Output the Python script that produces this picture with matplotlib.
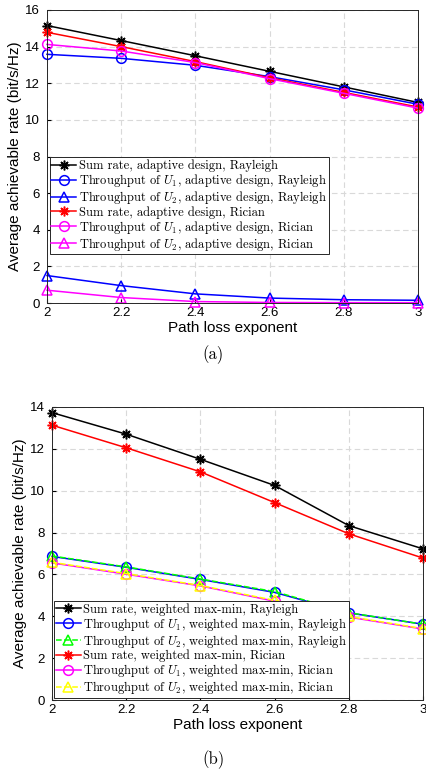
import matplotlib.pyplot as plt

plt.rcParams['font.family'] = ['Liberation Sans', 'DejaVu Sans']
plt.rcParams['mathtext.fontset'] = 'cm'

x = [2, 2.2, 2.4, 2.6, 2.8, 3]

# (a) adaptive design
a_sum_ray = [15.15, 14.33, 13.5, 12.65, 11.8, 10.95]
a_u1_ray = [13.58, 13.36, 12.98, 12.36, 11.64, 10.85]
a_u2_ray = [1.5, 0.95, 0.5, 0.27, 0.18, 0.15]
a_sum_ric = [14.78, 14.0, 13.18, 12.3, 11.5, 10.7]
a_u1_ric = [14.12, 13.76, 13.13, 12.25, 11.45, 10.64]
a_u2_ric = [0.7, 0.3, 0.08, 0.03, 0.02, 0.02]

# (b) weighted max-min
b_sum_ray = [13.73, 12.7, 11.5, 10.25, 8.33, 7.22]
b_u1_ray = [6.86, 6.34, 5.76, 5.14, 4.16, 3.62]
b_u2_ray = [6.88, 6.36, 5.78, 5.18, 4.17, 3.62]
b_sum_ric = [13.13, 12.05, 10.9, 9.43, 7.94, 6.78]
b_u1_ric = [6.55, 6.01, 5.45, 4.72, 3.96, 3.39]
b_u2_ric = [6.58, 6.04, 5.47, 4.76, 3.99, 3.41]

labels_a = ["Sum rate, adaptive design, Rayleigh",
            "Throughput of $U_1$, adaptive design, Rayleigh",
            "Throughput of $U_2$, adaptive design, Rayleigh",
            "Sum rate, adaptive design, Rician",
            "Throughput of $U_1$, adaptive design, Rician",
            "Throughput of $U_2$, adaptive design, Rician"]
labels_b = ["Sum rate, weighted max-min, Rayleigh",
            "Throughput of $U_1$, weighted max-min, Rayleigh",
            "Throughput of $U_2$, weighted max-min, Rayleigh",
            "Sum rate, weighted max-min, Rician",
            "Throughput of $U_1$, weighted max-min, Rician",
            "Throughput of $U_2$, weighted max-min, Rician"]

fig = plt.figure(figsize=(4.27, 7.74), dpi=100)
ASTER = (8, 2, 0)


def style(ax, ymax):
    ax.set_xlim(2, 3)
    ax.set_ylim(0, ymax)
    ax.set_xticks(x)
    ax.set_xticklabels(['2', '2.2', '2.4', '2.6', '2.8', '3'])
    ax.set_yticks(range(0, ymax + 1, 2))
    ax.grid(True, ls=(0, (5, 3)), color='#d9d9d9', lw=0.8)
    ax.set_axisbelow(True)
    ax.tick_params(direction='in', labelsize=9.5, length=3, pad=3)
    ax.tick_params(axis='y', pad=5)
    for s in ax.spines.values():
        s.set_linewidth(0.7)
        s.set_color('#262626')
    ax.set_xlabel('Path loss exponent', fontsize=11, labelpad=1)
    ax.set_ylabel('Average achievable rate (bit/s/Hz)', fontsize=11, labelpad=2)


def draw(ax, series, styles, labels, loc_anchor):
    for ys, (c, m, ls), lab in zip(series, styles, labels):
        ax.plot(x, ys, color=c, marker=m, ls=ls, lw=1.1, ms=7,
                mfc='none', mew=1.1, label=lab, clip_on=False)
    leg = ax.legend(loc='lower left', bbox_to_anchor=loc_anchor,
                    prop={'family': ['cmr10'], 'size': 9.0},
                    fancybox=False, edgecolor='#262626', framealpha=1,
                    borderpad=0.15, labelspacing=0.0, handlelength=2.0,
                    handletextpad=0.2, borderaxespad=0)
    leg.get_frame().set_linewidth(0.7)


ax1 = fig.add_axes([0.110, 0.6085, 0.869, 0.3786])
styles_a = [('black', ASTER, '-'), ('blue', 'o', '-'), ('blue', '^', '-'),
            ('red', ASTER, '-'), ('magenta', 'o', '-'), ('magenta', '^', '-')]
draw(ax1, [a_sum_ray, a_u1_ray, a_u2_ray, a_sum_ric, a_u1_ric, a_u2_ric],
     styles_a, labels_a, (0.007, 0.166))
style(ax1, 16)

ax2 = fig.add_axes([0.1218, 0.0956, 0.869, 0.3786])
styles_b = [('black', ASTER, '-'), ('blue', 'o', '-'), ('#00ff00', '^', '--'),
            ('red', ASTER, '-'), ('magenta', 'o', '-'), ('yellow', '^', '--')]
draw(ax2, [b_sum_ray, b_u1_ray, b_u2_ray, b_sum_ric, b_u1_ric, b_u2_ric],
     styles_b, labels_b, (0.005, 0.006))
style(ax2, 14)

fig.text(0.5, 1 - 355 / 774, '(a)', ha='center', va='center',
         family='cmr10', fontsize=12)
fig.text(0.5, 1 - 760 / 774, '(b)', ha='center', va='center',
         family='cmr10', fontsize=12)

fig.savefig('out.png', dpi=100)
